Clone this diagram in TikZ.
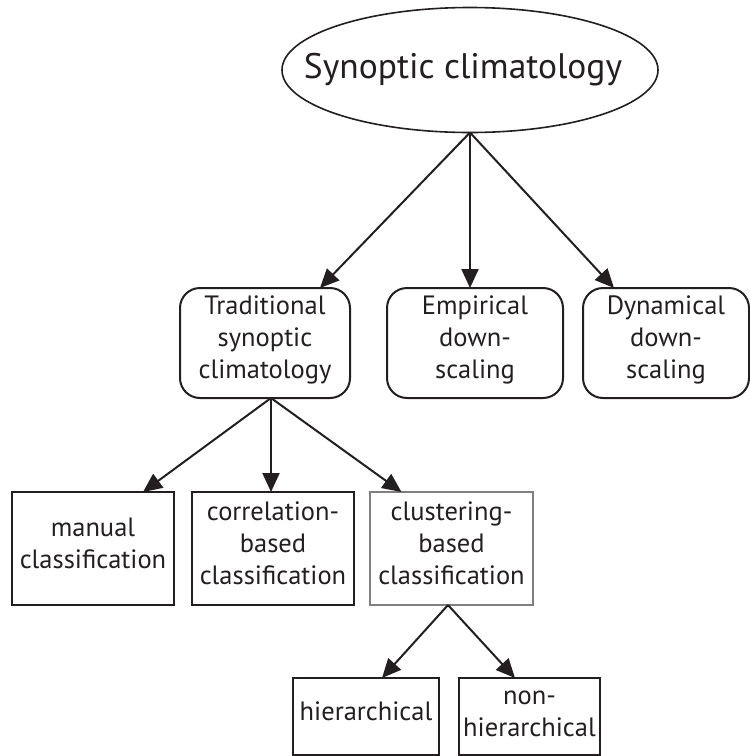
\documentclass[tikz,border=0pt]{standalone}
\usepackage{fontspec}
\setmainfont{PT Sans}
\usetikzlibrary{arrows.meta,shapes.geometric,calc}
\definecolor{ink}{HTML}{231F20}
\definecolor{greyline}{HTML}{808080}
\newcommand\Tst{\rule{0pt}{21pt}}
\newcommand\Bst{\rule[-13.5pt]{0pt}{13.5pt}}
\begin{document}
\begin{tikzpicture}[x=1pt,y=-1pt,
  every node/.style={text=ink,inner sep=0pt,outer sep=0pt,align=center,font=\fontsize{26.5}{32}\selectfont},
  roundbox/.style={draw=ink,line width=2pt,rounded corners=20pt,minimum height=110pt},
  sqbox/.style={draw=ink,line width=2pt,minimum height=113pt},
  greybox/.style={draw=greyline,line width=2pt,minimum height=113pt},
  leafbox/.style={draw=ink,line width=2pt,minimum height=77pt},
  conn/.style={draw=ink,line width=2pt,-{Triangle[length=19pt,width=17pt]}}]
\useasboundingbox (0,0) rectangle (750,756);
\node[ellipse,draw=ink,line width=1.6pt,minimum width=376pt,minimum height=125pt] (top) at (470,70) {};
\node[font=\fontsize{35.5}{40}\selectfont] (toptext) at ($(top.center)+(-7,0)$) {Synoptic climatology};
\node[roundbox,minimum width=170pt] (trad) at (265,343) {\Tst Traditional\\synoptic\\climatology\Bst};
\node[roundbox,minimum width=176pt] (emp) at (475,343) {\Tst Empirical\\down-\\scaling\Bst};
\node[roundbox,minimum width=166pt] (dyn) at (666,343) {\Tst Dynamical\\down-\\scaling\Bst};
\node[sqbox,minimum width=162pt] (man) at (93,548.5) {\Tst manual\\classification\Bst};
\node[sqbox,minimum width=162pt] (cor) at (273,548.5) {\Tst correlation-\\based\\classification\Bst};
\node[greybox,minimum width=163pt] (clu) at (451.5,548.5) {\Tst clustering-\\based\\classification\Bst};
\node[leafbox,minimum width=146pt] (hier) at (366,716.5) {\Tst hierarchical\Bst};
\node[leafbox,minimum width=141pt] (nonh) at (529.5,716.5) {\Tst non-\\hierarchical\Bst};
\coordinate (o1) at ($(trad.south)+(6,0)$);
\coordinate (o2) at ($(clu.south)+(-3.5,0)$);
\draw[conn] (top.south) -- ($(trad.north)+(55,0)$);
\draw[conn] (top.south) -- (top.south |- emp.north);
\draw[conn] (top.south) -- ($(dyn.north)+(-52,0)$);
\draw[conn] (o1) -- ($(man.north)+(50,0)$);
\draw[conn] (o1) -- (o1 |- cor.north);
\draw[conn] (o1) -- ($(clu.north)+(-50,0)$);
\draw[conn] (o2) -- ($(hier.north)+(16,0)$);
\draw[conn] (o2) -- ($(nonh.north)+(-14.5,0)$);
\end{tikzpicture}
\end{document}
